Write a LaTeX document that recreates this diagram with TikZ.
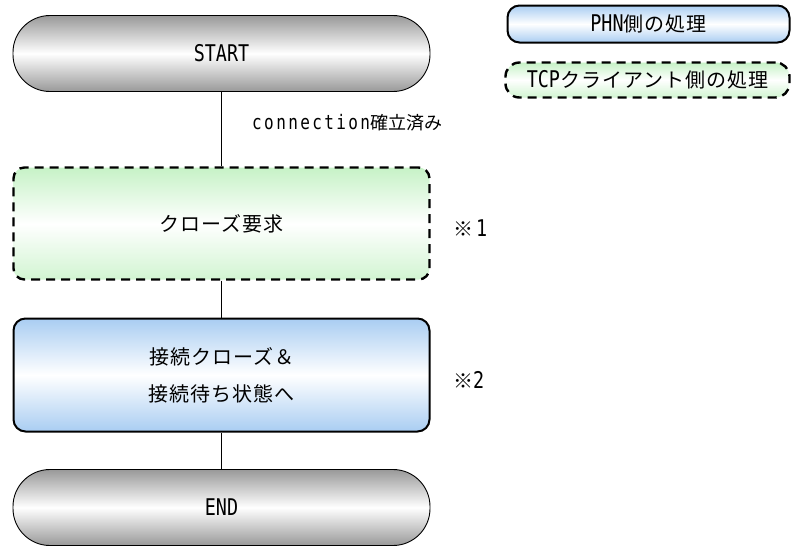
\documentclass[tikz,border=0pt]{standalone}
\usepackage{fontspec}
\setmainfont{Noto Sans CJK JP}[LetterSpace=5]
\newfontfamily\lat[FakeStretch=0.8]{DejaVu Sans Mono}
\newfontfamily\latsp[FakeStretch=0.8,LetterSpace=12]{DejaVu Sans Mono}
\newcommand{\latw}[1]{{\lat\fontsize{23pt}{24pt}\selectfont #1}}
\definecolor{gshade}{HTML}{999999}
\definecolor{gfill}{HTML}{C6F2C6}
\definecolor{bfill}{HTML}{A9CDF2}
\tikzset{
  jfont/.style={font=\fontsize{20pt}{22pt}\selectfont},
  term/.style={draw=black, line width=0.9pt, rounded corners=37pt,
    minimum width=417pt, minimum height=76pt, inner sep=0pt,
    top color=gshade, bottom color=gshade, middle color=white, jfont},
  tcpbox/.style={draw=black, line width=2.4pt, dash pattern=on 9pt off 6pt,
    rounded corners=11pt, inner sep=0pt,
    top color=gfill, bottom color=gfill!80, middle color=white, jfont},
  phnbox/.style={draw=black, line width=2pt, rounded corners=12pt, inner sep=0pt,
    top color=bfill, bottom color=bfill, middle color=white, jfont},
  conn/.style={line width=1pt, draw=black},
  note/.style={anchor=west, inner sep=0pt, jfont}
}
\begin{document}
\begin{tikzpicture}[x=1pt,y=-1pt]
\useasboundingbox (0,0) rectangle (793,547);
\node[term] (start) at (221.5,53.5) {\latw{START}};
\node[tcpbox, minimum width=416pt, minimum height=112pt] (req) at (221.5,223.5) {クローズ要求};
\node[phnbox, minimum width=416pt, minimum height=113pt, align=center,
  font=\fontsize{20pt}{37pt}\selectfont] (close) at (221.5,375) {接続クローズ＆\\接続待ち状態へ};
\node[term] (end) at (221.5,507.5) {\latw{END}};
\draw[conn] (start.south) -- (req.north);
\draw[conn] (req.south) -- (close.north);
\draw[conn] (close.south) -- (end.north);
% labels
\node[note, font=\fontsize{18pt}{18pt}\selectfont\addfontfeature{LetterSpace=0}] (lbl) at (252,123) {{\latsp\fontsize{20pt}{20pt}\selectfont connection}確立済み};
\node[note] (n1) at (453,228) {※\hspace{3pt}\latw{1}};
\node[note] (n2) at (453,380) {※\latw{2}};
% legend
\node[phnbox, minimum width=282pt, minimum height=37pt] (lphn) at (648.5,24) {\latw{PHN}側の処理};
\node[tcpbox, rounded corners=14pt, minimum width=284pt, minimum height=35pt] (ltcp) at (647.5,80) {\latw{TCP}クライアント側の処理};
\end{tikzpicture}
\end{document}
